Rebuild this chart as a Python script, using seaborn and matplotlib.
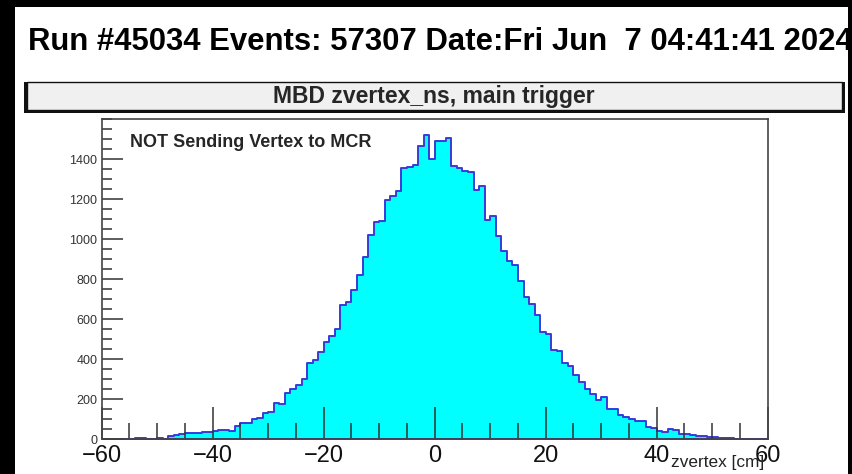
import numpy as np
import pandas as pd
import matplotlib
matplotlib.use("Agg")
import matplotlib.pyplot as plt
from matplotlib.patches import Rectangle
from matplotlib.ticker import MultipleLocator, FixedLocator
from matplotlib import font_manager
import seaborn as sns

# ---------------- data ----------------
title_text = "Run #45034 Events: 57307 Date:Fri Jun  7 04:41:41 2024"
subtitle_text = "MBD zvertex_ns, main trigger"
note_text = "NOT Sending Vertex to MCR"
x_label = "zvertex [cm]"

x_min, x_max, bin_width = -60, 60, 1
y_max = 1600
x_ticks = [-60, -40, -20, 0, 20, 40, 60]
y_ticks = [0, 200, 400, 600, 800, 1000, 1200, 1400]

counts = [
    # -60 .. -49
    0, 0, 0, 0, 0, 1, 3, 3, 2, 1, 3, 2,
    # -48 .. -37
    14, 22, 25, 30, 31, 32, 36, 36, 38, 45, 44, 42,
    # -36 .. -25
    67, 82, 80, 102, 104, 132, 135, 178, 176, 228, 252, 272,
    # -24 .. -13
    300, 380, 395, 437, 485, 515, 550, 672, 687, 745, 820, 912,
    # -12 .. -1
    1021, 1085, 1090, 1196, 1213, 1238, 1355, 1362, 1368, 1463, 1522, 1401,
    # 0 .. 11
    1488, 1490, 1505, 1366, 1355, 1340, 1333, 1243, 1263, 1096, 1116, 1013,
    # 12 .. 23
    941, 888, 868, 788, 708, 675, 622, 537, 525, 445, 440, 379,
    # 24 .. 35
    366, 322, 287, 252, 227, 197, 212, 152, 150, 118, 112, 101,
    # 36 .. 47
    90, 88, 60, 57, 38, 33, 48, 46, 26, 24, 21, 17,
    # 48 .. 59
    15, 12, 8, 6, 6, 4, 2, 2, 1, 1, 0, 0,
]

centers = np.arange(x_min, x_max, bin_width) + bin_width / 2
df = pd.DataFrame({"z": centers, "n": counts})

# ---------------- figure ----------------
W, H = 853, 474
sns.set_style("white")
plt.rcParams["font.family"] = ["Liberation Sans", "DejaVu Sans"]

installed = {f.name for f in font_manager.fontManager.ttflist}
narrow = "Liberation Sans Narrow" in installed

fig = plt.figure(figsize=(W / 100, H / 100), dpi=100)
fig.patch.set_facecolor("white")

px0, px1, py0, py1 = 101.7, 767.7, 119, 439
ax = fig.add_axes([px0 / W, 1 - py1 / H, (px1 - px0) / W, (py1 - py0) / H])
ax.set_axisbelow(False)

sns.histplot(data=df, x="z", weights="n", binwidth=bin_width,
             binrange=(x_min, x_max), element="step",
             fill=True, facecolor="#00ffff", edgecolor="#3a3ad8",
             linewidth=1.4, alpha=1, ax=ax)

ax.set_axisbelow(False)
ax.set_xlim(x_min, x_max)
ax.set_ylim(0, y_max)
ax.set_xlabel("")
ax.set_ylabel("")
ax.xaxis.set_major_locator(FixedLocator(x_ticks))
ax.xaxis.set_minor_locator(MultipleLocator(5))
ax.yaxis.set_major_locator(FixedLocator(y_ticks))
ax.yaxis.set_minor_locator(MultipleLocator(50))
ax.tick_params(axis="both", which="both", bottom=True, left=True,
               top=False, right=False)
ax.tick_params(axis="x", which="major", direction="in", length=23, width=1.1,
               color="#333333", labelsize=17, pad=4, labelcolor="#111111")
ax.tick_params(axis="x", which="minor", direction="in", length=11.5, width=1.1,
               color="#333333")
ax.tick_params(axis="y", which="major", direction="in", length=15, width=1.1,
               color="#333333", labelsize=9, pad=3, labelcolor="#333333")
ax.tick_params(axis="y", which="minor", direction="in", length=7, width=1.1,
               color="#333333")
for s in ax.spines.values():
    s.set_color("#444444")
    s.set_linewidth(1.2)
    s.set_zorder(5)
ax.set_facecolor("white")

# texts
if narrow:
    fig.text(28 / W, 1 - 50 / H, title_text, fontsize=27, fontweight="bold",
             family=["Liberation Sans Narrow", "DejaVu Sans"],
             va="baseline", ha="left", color="black")
else:
    fig.text(28 / W, 1 - 50 / H, title_text, fontsize=22.4, fontweight="bold",
             va="baseline", ha="left", color="black")

# subtitle box with shadow
bx0, bx1, by0, by1 = 27, 842, 82, 110
fig.add_artist(Rectangle((24 / W, 1 - 113 / H), (845 - 24) / W,
                         (113 - 82) / H, transform=fig.transFigure,
                         facecolor="#111111", edgecolor="none", zorder=3))
fig.add_artist(Rectangle((bx0 / W, 1 - by1 / H), (bx1 - bx0) / W,
                         (by1 - by0) / H, transform=fig.transFigure,
                         facecolor="#f0f0f0", edgecolor="#111111", linewidth=1.0,
                         zorder=4))
fig.text(434 / W, 1 - 96 / H, subtitle_text, fontsize=16.5, fontweight="bold",
         ha="center", va="center", zorder=5)

fig.text(130 / W, 1 - 147 / H, note_text, fontsize=13, fontweight="bold",
         ha="left", va="baseline")

fig.text(764 / W, 1 - 462 / H, x_label, fontsize=12.4, ha="right",
         va="center", color="#222222")

# black frame around the screenshot
for (x0, y0, w, h) in [(0, 0, 15, H), (0, 0, W, 7), (W - 5, 0, 5, H)]:
    fig.add_artist(Rectangle((x0 / W, 1 - (y0 + h) / H), w / W, h / H,
                             transform=fig.transFigure, facecolor="black",
                             edgecolor="none", zorder=30))

fig.savefig("out.png", dpi=100, facecolor=fig.get_facecolor())
